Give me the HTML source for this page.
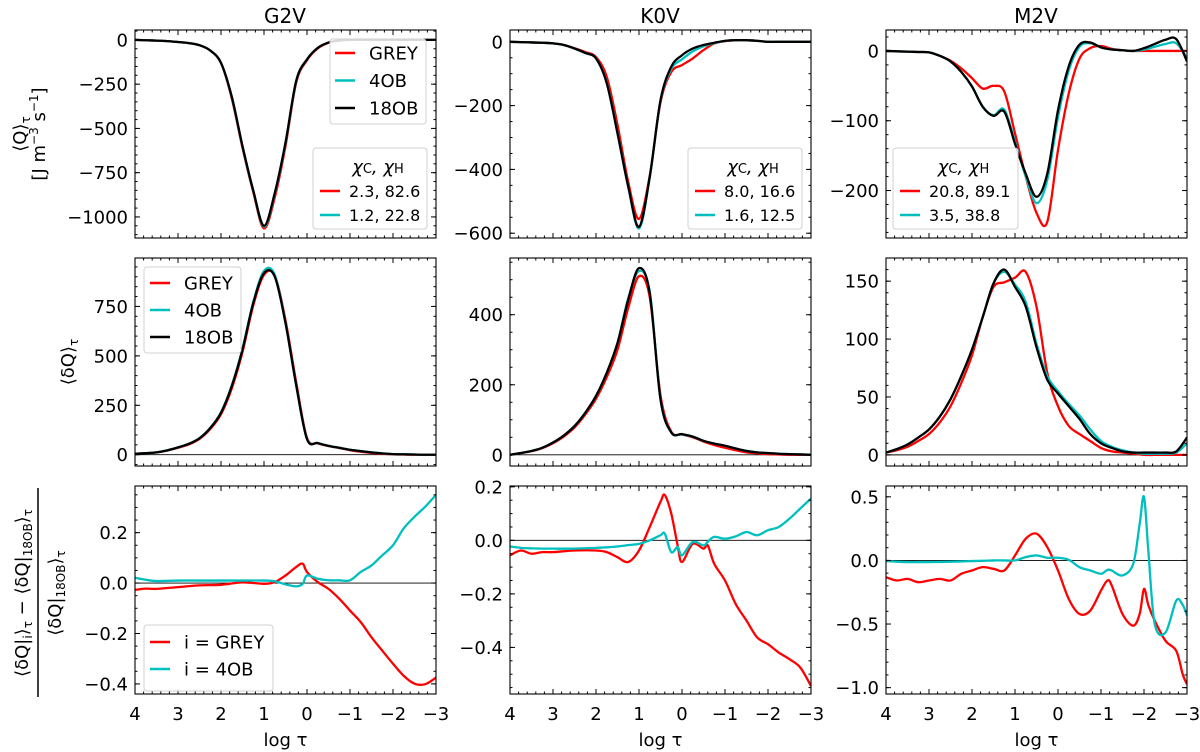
<!DOCTYPE html>
<html><head><meta charset="utf-8">
<style>
html,body{margin:0;padding:0;background:#fff;}
svg{display:block;font-family:"DejaVu Sans","Liberation Sans",sans-serif;}
</style></head>
<body>
<svg id="fig" width="1200" height="752" viewBox="0 0 1200 752" xmlns="http://www.w3.org/2000/svg">
<g id="titles" font-size="20" text-anchor="middle">
<text x="285" y="23">G2V</text>
<text x="660" y="23">K0V</text>
<text x="1036" y="23">M2V</text>
</g>
<g font-size="18" text-anchor="middle">
<text transform="translate(26,134) rotate(-90)">⟨Q⟩<tspan font-size="12" dy="4">τ</tspan></text>
<text transform="translate(45,134) rotate(-90)">[J m<tspan font-size="12" dy="-7">−3</tspan><tspan dy="7"> s</tspan><tspan font-size="12" dy="-7">−1</tspan><tspan dy="7">]</tspan></text>
<text transform="translate(74,362) rotate(-90)">⟨δQ⟩<tspan font-size="12" dy="4">τ</tspan></text>
<text transform="translate(28,593) rotate(-90)">⟨δQ|<tspan font-size="12" dy="4">i</tspan><tspan dy="-4">⟩</tspan><tspan font-size="12" dy="4">τ</tspan><tspan dy="-4"> − ⟨δQ|</tspan><tspan font-size="12" dy="4">18OB</tspan><tspan dy="-4">⟩</tspan><tspan font-size="12" dy="4">τ</tspan></text>
<line x1="38" y1="488" x2="38" y2="697" stroke="#000" stroke-width="1.5"/>
<text transform="translate(61,593) rotate(-90)">⟨δQ|<tspan font-size="12" dy="4">18OB</tspan><tspan dy="-4">⟩</tspan><tspan font-size="12" dy="4">τ</tspan></text>
</g>
<g id="panels"></g>
</svg>
<script>
// shared x categories (log tau)
const xGrid = [4,3.75,3.5,3.25,3,2.75,2.5,2.25,2,1.75,1.5,1.25,1,0.75,0.5,0.25,0,-0.25,-0.5,-0.75,-1,-1.25,-1.5,-1.75,-2,-2.25,-2.5,-2.75,-3];
const xTickLabels = [4,3,2,1,0,-1,-2,-3];

// Row 1: <Q>
const g2vQgrey = [0,-2,-4,-7,-12,-18,-30,-60,-130,-330,-610,-860,-1065,-890,-600,-240,-115,-48,-16,-4,0,0,0,0,0,0,0,0,0];
const g2vQ4ob  = [0,-2,-4,-7,-12,-18,-30,-60,-130,-322,-602,-852,-1055,-870,-585,-232,-110,-45,-15,-4,0,0,0,0,0,0,0,0,0];
const g2vQ18ob = [0,-2,-4,-7,-12,-18,-30,-60,-130,-320,-600,-850,-1050,-865,-580,-230,-110,-45,-15,-4,0,0,0,0,0,0,0,0,0];
const k0vQgrey = [0,-1,-2,-3,-5,-10,-20,-32,-48,-110,-260,-440,-555,-420,-190,-95,-73,-52,-26,-5,2,5,5,3,0,0,0,0,0];
const k0vQ4ob  = [0,-1,-2,-3,-5,-10,-21,-35,-52,-128,-285,-455,-585,-425,-185,-85,-55,-30,-14,-4,3,5,5,3,0,0,0,0,0];
const k0vQ18ob = [0,-1,-2,-3,-5,-10,-21,-35,-52,-130,-287,-454,-580,-423,-183,-78,-42,-21,-10,-3,3,5,5,3,0,0,0,0,0];
const m2vQgrey = [0,-0.5,-1,-1.5,-2,-7,-14,-25,-39,-54,-50,-58,-118,-180,-232,-245,-142,-61,-11,4,7,3,1,0,0,0,0,0,0];
const m2vQ4ob  = [0,-0.5,-1,-1.5,-2,-7,-15,-30,-51,-80,-92,-84,-130,-180,-218,-185,-95,-28,6,11,5,2,1,0,2,6,10,11,-10];
const m2vQ18ob = [0,-0.5,-1,-1.5,-2,-7,-15,-30,-51,-80,-93,-87,-133,-176,-209,-176,-85,-22,9,12,5,2,1,0,4,10,16,17,-15];

// Row 2: <dQ>
const g2vDgrey = [5,8,12,21,35,52,80,130,205,335,520,755,910,905,680,365,85,58,44,34,23,15,9,5,2,1,0,0,0];
const g2vD4ob  = [5,8,12,22,37,55,84,136,215,350,537,772,930,910,668,350,80,59,45,35,25,18,12,7,3,2,1,0,0];
const g2vD18ob = [5,8,12,22,37,55,83,135,212,347,532,767,918,901,666,350,79,59,45,35,25,18,12,7,3,2,1,0,0];
const k0vDgrey = [0,5,10,19,33,52,78,115,160,222,300,420,510,450,170,66,58,50,38,28,20,13,7,4,2,1,0,0,0];
const k0vD4ob  = [0,5,11,20,35,55,82,120,168,234,320,448,525,465,160,64,58,52,40,32,26,18,11,7,5,3,2,1,0];
const k0vD18ob = [0,5,11,20,35,55,82,120,168,234,319,443,533,462,158,64,59,52,40,32,26,18,11,7,5,3,2,1,0];
const m2vDgrey = [2,4,7,12,18,28,42,62,86,119,145,149,153,158,128,71,42,25,18,12,6,3,2,1,0,0,0,0,0];
const m2vD4ob  = [2,5,9,15,22,33,48,68,91,119,148,158,147,132,96,68,55,44,34,22,12,7,4,2,1,1,1,2,10];
const m2vD18ob = [2,5,9,15,22,33,48,68,91,119,148,160,145,128,93,65,53,42,31,18,10,6,3,2,2,2,2,3,15];

// Row 3: relative differences
const g2vRx    = [4,3.75,3.5,3,2.5,2,1.5,1,0.75,0.5,0.25,0.1,0,-0.25,-0.5,-0.75,-1,-1.25,-1.5,-1.75,-2,-2.25,-2.5,-2.75,-3];
const g2vRgrey = [-0.027,-0.022,-0.023,-0.016,-0.009,-0.007,0.003,-0.003,0.004,0.03,0.064,0.077,0.044,0.004,-0.023,-0.062,-0.109,-0.155,-0.215,-0.268,-0.32,-0.368,-0.399,-0.401,-0.375];
const g2vR4ob  = [0.021,0.013,0.008,0.01,0.01,0.01,0.01,0.01,0.007,-0.005,-0.013,-0.003,0.03,0.017,0.011,0.011,0.011,0.044,0.07,0.11,0.15,0.217,0.263,0.303,0.35];
const k0vRx    = [4,3.75,3.5,3.25,3,2.5,2,1.75,1.5,1.25,1,0.75,0.5,0.4,0.25,0.1,0,-0.25,-0.5,-0.6,-0.75,-1,-1.25,-1.5,-1.75,-2,-2.25,-2.5,-2.75,-3];
const k0vRgrey = [-0.056,-0.038,-0.05,-0.044,-0.044,-0.038,-0.038,-0.044,-0.063,-0.081,-0.038,0.05,0.144,0.169,0.1,-0.02,-0.081,-0.013,-0.031,-0.019,-0.088,-0.15,-0.238,-0.3,-0.363,-0.388,-0.419,-0.444,-0.475,-0.544];
const k0vR4ob  = [-0.023,-0.028,-0.03,-0.031,-0.031,-0.031,-0.028,-0.026,-0.023,-0.018,-0.013,0.0,0.019,0.025,-0.044,-0.025,-0.056,-0.006,-0.019,-0.005,0.013,0.006,0.015,0.031,0.019,0.038,0.05,0.081,0.119,0.156];
const m2vRx    = [4,3.75,3.5,3.25,3,2.75,2.5,2.25,2,1.75,1.5,1.25,1,0.75,0.5,0.25,0,-0.25,-0.5,-0.75,-1,-1.15,-1.25,-1.5,-1.75,-1.9,-2,-2.1,-2.25,-2.5,-2.75,-2.9,-3];
const m2vRgrey = [-0.132,-0.158,-0.145,-0.171,-0.158,-0.145,-0.158,-0.105,-0.079,-0.053,-0.066,-0.079,0.039,0.171,0.21,0.105,-0.079,-0.303,-0.421,-0.395,-0.237,-0.158,-0.197,-0.421,-0.513,-0.42,-0.224,-0.35,-0.474,-0.632,-0.711,-0.895,-0.974];
const m2vR4ob  = [-0.005,-0.01,-0.013,-0.013,-0.013,-0.012,-0.01,-0.008,-0.005,-0.003,0,0,0,0.026,0.039,0.021,0.021,0.005,-0.053,-0.079,-0.105,-0.074,-0.08,-0.118,-0.026,0.289,0.5,0.079,-0.5,-0.566,-0.316,-0.35,-0.434];

// tick labels per panel
const ticksQg = [0,-250,-500,-750,-1000];
const ticksQk = [0,-200,-400,-600];
const ticksQm = [0,-100,-200];
const ticksDg = [0,250,500,750];
const ticksDk = [0,200,400];
const ticksDm = [0,50,100,150];
const ticksRg = [-0.4,-0.2,0.0,0.2];
const ticksRk = [-0.4,-0.2,0.0,0.2];
const ticksRm = [-1.0,-0.5,0.0,0.5];

const NS = 'http://www.w3.org/2000/svg';
const root = document.getElementById('panels');
const RED = '#ff0000', CYAN = '#00bfbf', BLACK = '#000000';
const colsL = [135,510,886], rowsT = [30,258,486], PW = 301, PH = 208;

function mk(tag, attrs, parent){
  const e = document.createElementNS(NS, tag);
  for (const k in attrs) e.setAttribute(k, attrs[k]);
  parent.appendChild(e);
  return e;
}
function fmt(v, dec){
  const s = dec ? Math.abs(v).toFixed(1) : String(Math.abs(v));
  return (v < 0 ? '−' : '') + s;
}
function smoothPath(pts){
  let d = 'M' + pts[0][0].toFixed(2) + ',' + pts[0][1].toFixed(2);
  for (let i = 0; i < pts.length - 1; i++){
    const p0 = pts[Math.max(0,i-1)], p1 = pts[i], p2 = pts[i+1], p3 = pts[Math.min(pts.length-1,i+2)];
    const c1x = p1[0] + (p2[0]-p0[0])/6, c1y = p1[1] + (p2[1]-p0[1])/6;
    const c2x = p2[0] - (p3[0]-p1[0])/6, c2y = p2[1] - (p3[1]-p1[1])/6;
    d += ' C' + c1x.toFixed(2)+','+c1y.toFixed(2)+' '+c2x.toFixed(2)+','+c2y.toFixed(2)+' '+p2[0].toFixed(2)+','+p2[1].toFixed(2);
  }
  return d;
}

function panel(name, col, row, ymin, ymax, ticks, minorStep, dec, series, zeroLine){
  const L = colsL[col], T = rowsT[row];
  const g = mk('g', {}, root);
  
  
  const xs = v => L + (4 - v) / 7 * PW;
  const ys = v => T + (ymax - v) / (ymax - ymin) * PH;
  const clip = mk('clipPath', {id: 'clip-' + name}, g);
  mk('rect', {x: L, y: T, width: PW, height: PH}, clip);
  if (zeroLine){
    const z = mk('line', {x1: L, x2: L+PW, y1: ys(0), y2: ys(0), stroke: '#000', 'stroke-width': 0.9}, g);
    
    
  }
  const sg = mk('g', {'clip-path': 'url(#clip-' + name + ')'}, g);
  series.forEach(s => {
    const pts = s.x.map((xv, i) => [xs(xv), ys(s.y[i])]);
    const p = mk('path', {d: smoothPath(pts), fill: 'none', stroke: s.c, 'stroke-width': 2.3, 'stroke-linejoin': 'round'}, sg);
    
    
  });
  const fr = mk('rect', {x: L, y: T, width: PW, height: PH, fill: 'none', stroke: '#000', 'stroke-width': 1.1}, g);
  
  
  const tg = mk('g', {stroke: '#000', 'stroke-width': 1}, g);
  for (let k = 0; k <= 35; k++){
    const v = 4 - k * 0.2, x = xs(v), len = (k % 5 === 0) ? 5 : 2.5;
    mk('line', {x1: x, x2: x, y1: T, y2: T + len}, tg);
    mk('line', {x1: x, x2: x, y1: T + PH, y2: T + PH - len}, tg);
  }
  const start = Math.ceil(ymin / minorStep) * minorStep;
  for (let v = start; v <= ymax + 1e-9; v += minorStep){
    const y = ys(v);
    mk('line', {x1: L, x2: L + 2.5, y1: y, y2: y}, tg);
    mk('line', {x1: L + PW, x2: L + PW - 2.5, y1: y, y2: y}, tg);
  }
  ticks.forEach(v => {
    const y = ys(v);
    mk('line', {x1: L, x2: L + 5, y1: y, y2: y}, tg);
    mk('line', {x1: L + PW, x2: L + PW - 5, y1: y, y2: y}, tg);
    const t = mk('text', {x: L - 7, y: y + 6.5, 'font-size': 18, 'text-anchor': 'end'}, g);
    t.textContent = fmt(v, dec);
    
    
  });
  if (row === 2){
    xTickLabels.forEach(v => {
      const t = mk('text', {x: xs(v), y: T + PH + 26, 'font-size': 18, 'text-anchor': 'middle'}, g);
      t.textContent = fmt(v, false);
      
      
    });
    const xl = mk('text', {x: L + PW/2, y: T + PH + 52, 'font-size': 18, 'text-anchor': 'middle'}, g);
    xl.textContent = 'log τ';
    
    
  }
  return g;
}

function legend(g, name, x, y, w, h, title, entries, fs, rowH, lineX, textX, firstY){
  const lg = mk('g', {}, g);
  
  
  mk('rect', {x: x, y: y, width: w, height: h, rx: 3, fill: '#fff', 'fill-opacity': 0.85, stroke: '#d0d0d0', 'stroke-width': 1}, lg);
  if (title){
    const t = mk('text', {x: x + w/2 + 8, y: y + 25, 'font-size': 18, 'text-anchor': 'middle', 'font-style': 'italic'}, lg);
    t.innerHTML = 'χ<tspan font-size="13" font-style="normal">C</tspan>, χ<tspan font-size="13" font-style="normal">H</tspan>';
    
    
  }
  entries.forEach((e, i) => {
    const cy = firstY + i * rowH;
    mk('line', {x1: lineX, x2: lineX + 20, y1: cy, y2: cy, stroke: e.c, 'stroke-width': 2.5}, lg);
    const t = mk('text', {x: textX, y: cy + fs*0.36, 'font-size': fs}, lg);
    t.textContent = e.t;
    
    
  });
}

function tri(g4, c4, b4, xv){
  return [
    {n:'grey', c:RED, x:xv, y:g4},
    {n:'4ob', c:CYAN, x:xv, y:c4},
    {n:'18ob', c:BLACK, x:xv, y:b4}
  ];
}

const p11 = panel('panel-g2v-q', 0, 0, -1119, 56, ticksQg, 50, false, tri(g2vQgrey, g2vQ4ob, g2vQ18ob, xGrid), false);
const p12 = panel('panel-k0v-q', 1, 0, -615, 37, ticksQk, 50, false, tri(k0vQgrey, k0vQ4ob, k0vQ18ob, xGrid), false);
const p13 = panel('panel-m2v-q', 2, 0, -268, 30, ticksQm, 20, false, tri(m2vQgrey, m2vQ4ob, m2vQ18ob, xGrid), false);
const p21 = panel('panel-g2v-dq', 0, 1, -57, 995, ticksDg, 50, false, tri(g2vDgrey, g2vD4ob, g2vD18ob, xGrid), true);
const p22 = panel('panel-k0v-dq', 1, 1, -32, 562, ticksDk, 50, false, tri(k0vDgrey, k0vD4ob, k0vD18ob, xGrid), true);
const p23 = panel('panel-m2v-dq', 2, 1, -9.6, 170, ticksDm, 10, false, tri(m2vDgrey, m2vD4ob, m2vD18ob, xGrid), true);
const p31 = panel('panel-g2v-rel', 0, 2, -0.44, 0.385, ticksRg, 0.05, true, [{n:'grey',c:RED,x:g2vRx,y:g2vRgrey},{n:'4ob',c:CYAN,x:g2vRx,y:g2vR4ob}], true);
const p32 = panel('panel-k0v-rel', 1, 2, -0.574, 0.203, ticksRk, 0.05, true, [{n:'grey',c:RED,x:k0vRx,y:k0vRgrey},{n:'4ob',c:CYAN,x:k0vRx,y:k0vR4ob}], true);
const p33 = panel('panel-m2v-rel', 2, 2, -1.05, 0.585, ticksRm, 0.1, true, [{n:'grey',c:RED,x:m2vRx,y:m2vRgrey},{n:'4ob',c:CYAN,x:m2vRx,y:m2vR4ob}], true);

const modelEntries = [{c:RED,t:'GREY'},{c:CYAN,t:'4OB'},{c:BLACK,t:'18OB'}];
legend(p11, 'legend-models', 330, 39, 96, 85, null, modelEntries, 18, 27.5, 335, 369, 53);
legend(p11, 'legend-chi-g2v', 313, 148, 114, 81, true, [{c:RED,t:'2.3, 82.6'},{c:CYAN,t:'1.2, 22.8'}], 16, 24, 320, 349, 191);
legend(p12, 'legend-chi-k0v', 688, 148, 114, 81, true, [{c:RED,t:'8.0, 16.6'},{c:CYAN,t:'1.6, 12.5'}], 16, 24, 695, 724, 191);
legend(p13, 'legend-chi-m2v', 893, 148, 125, 81, true, [{c:RED,t:'20.8, 89.1'},{c:CYAN,t:'3.5, 38.8'}], 16, 24, 900, 929, 191);
legend(p21, 'legend-models-row2', 144, 267, 97, 86, null, modelEntries, 18, 27, 150, 184, 283);
legend(p31, 'legend-relative', 144, 625, 129, 66, null, [{c:RED,t:'i = GREY'},{c:CYAN,t:'i = 4OB'}], 18, 27, 150, 184, 642);
</script>
</body></html>
